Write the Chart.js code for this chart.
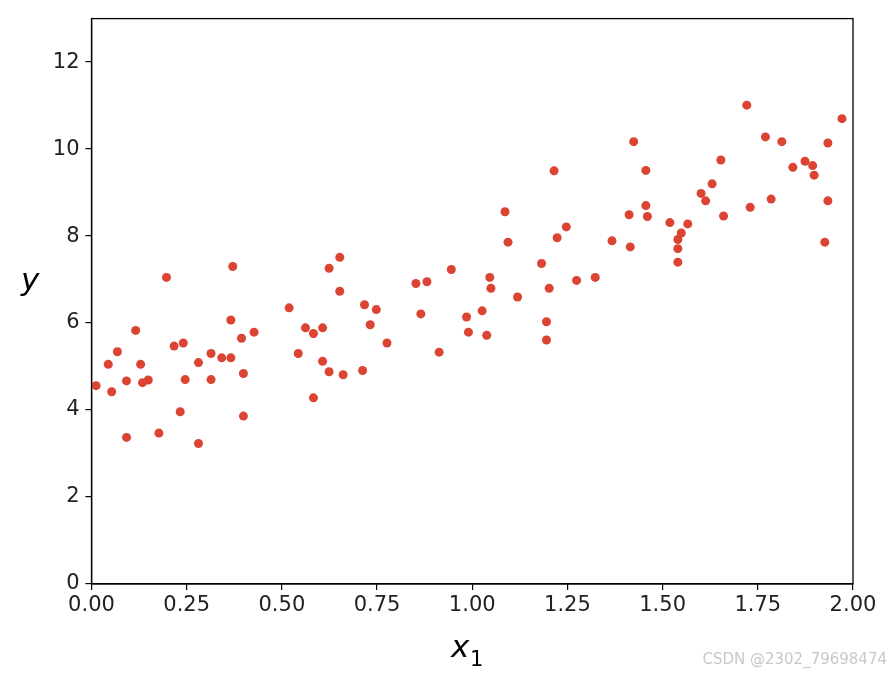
<!DOCTYPE html>
<html>
<head>
<meta charset="utf-8">
<script src="https://cdn.jsdelivr.net/npm/chart.js@4"></script>
<style>
  html, body { margin: 0; padding: 0; background: #fff; }
  canvas { display: block; }
</style>
</head>
<body>
<canvas id="scatterChart" width="892" height="676"></canvas>
<script>
// x1 values
const xValues = [
    0.012, 0.053, 0.044, 0.068, 0.092, 0.092, 0.116, 0.129, 0.134, 0.149,
    0.197, 0.177, 0.217, 0.241, 0.246, 0.233, 0.281, 0.281, 0.314, 0.314,
    0.342, 0.366, 0.371, 0.366, 0.394, 0.399, 0.399, 0.427, 0.519, 0.543,
    0.562, 0.583, 0.607, 0.607, 0.583, 0.624, 0.624, 0.652, 0.652, 0.661,
    0.712, 0.717, 0.748, 0.732, 0.776, 0.852, 0.881, 0.865, 0.945, 0.913,
    0.985, 0.990, 1.026, 1.038, 1.046, 1.049, 1.094, 1.119, 1.086, 1.215,
    1.247, 1.223, 1.182, 1.202, 1.195, 1.195, 1.274, 1.323, 1.367, 1.412,
    1.415, 1.456, 1.456, 1.460, 1.519, 1.566, 1.549, 1.540, 1.540, 1.540,
    1.424, 1.601, 1.613, 1.630, 1.653, 1.660, 1.721, 1.730, 1.770, 1.813,
    1.785, 1.842, 1.874, 1.894, 1.898, 1.934, 1.934, 1.926, 1.971
];
// y values
const yValues = [
    4.56, 4.42, 5.05, 5.34, 4.67, 3.37, 5.83, 5.05, 4.63, 4.69,
    7.05, 3.47, 5.47, 5.54, 4.70, 3.96, 5.09, 3.23, 5.30, 4.70,
    5.20, 5.20, 7.30, 6.07, 5.65, 4.84, 3.86, 5.79, 6.35, 5.30,
    5.89, 5.76, 5.89, 5.12, 4.28, 4.88, 7.26, 7.51, 6.73, 4.81,
    4.91, 6.42, 6.31, 5.96, 5.54, 6.91, 6.95, 6.21, 7.23, 5.33,
    6.14, 5.79, 6.28, 5.72, 7.05, 6.80, 7.86, 6.60, 8.56, 9.50,
    8.21, 7.96, 7.37, 6.80, 6.03, 5.61, 6.98, 7.05, 7.89, 8.49,
    7.75, 9.51, 8.70, 8.45, 8.31, 8.28, 8.07, 7.92, 7.71, 7.40,
    10.17, 8.98, 8.81, 9.20, 9.75, 8.46, 11.01, 8.66, 10.28, 10.17,
    8.85, 9.58, 9.72, 9.62, 9.40, 10.14, 8.81, 7.86, 10.70
];

const xTickLabels = ['0.00', '0.25', '0.50', '0.75', '1.00', '1.25', '1.50', '1.75', '2.00'];
const yTickLabels = ['0', '2', '4', '6', '8', '10', '12'];

const tickFont = { family: 'DejaVu Sans', size: 21 };

// frame, axis labels and watermark
const extras = {
    id: 'extras',
    afterDraw(chart) {
        const ctx = chart.ctx;
        const a = chart.chartArea;
        ctx.save();
        ctx.strokeStyle = '#000';
        ctx.lineWidth = 1.3;
        ctx.strokeRect(a.left, a.top, a.right - a.left, a.bottom - a.top);

        ctx.fillStyle = '#000';
        ctx.textBaseline = 'alphabetic';
        ctx.textAlign = 'left';
        ctx.font = 'italic 31px "DejaVu Sans"';
        ctx.fillText('x', 451, 657);
        ctx.font = '21px "DejaVu Sans"';
        ctx.fillText('1', 470, 666);

        ctx.font = 'italic 31px "DejaVu Sans"';
        ctx.fillText('y', 21, 290);

        ctx.fillStyle = '#c8c8c8';
        ctx.textAlign = 'right';
        ctx.font = '15px "DejaVu Sans"';
        ctx.fillText('CSDN @2302_79698474', 887, 664);
        ctx.restore();
    }
};

const el = document.getElementById('scatterChart');
new Chart(el, {
    type: 'scatter',
    data: {
        datasets: [{
            data: xValues.map((x, i) => ({ x: x, y: yValues[i] })),
            backgroundColor: '#db4433',
            borderWidth: 0,
            pointRadius: 4.5,
            pointHoverRadius: 4.5
        }]
    },
    options: {
        responsive: false,
        animation: false,
        layout: { padding: { left: 0, right: 39, top: 17, bottom: 0 } },
        plugins: {
            legend: { display: false },
            tooltip: { enabled: false }
        },
        scales: {
            x: {
                type: 'linear',
                min: 0,
                max: 2,
                afterFit: function (scale) { scale.height = 92; },
                ticks: {
                    stepSize: 0.25,
                    color: '#222',
                    font: tickFont,
                    padding: 3,
                    maxRotation: 0,
                    callback: (v, i) => xTickLabels[i]
                },
                grid: { drawOnChartArea: false, drawTicks: true, tickLength: 6, color: '#000', lineWidth: 1.2 },
                border: { display: true, color: '#000', width: 1.3 }
            },
            y: {
                type: 'linear',
                min: 0,
                max: 13,
                afterFit: function (scale) { scale.width = 91.5; },
                ticks: {
                    stepSize: 2,
                    includeBounds: false,
                    color: '#222',
                    font: tickFont,
                    padding: 6,
                    callback: (v, i) => yTickLabels[i]
                },
                grid: { drawOnChartArea: false, drawTicks: true, tickLength: 6, color: '#000', lineWidth: 1.2 },
                border: { display: true, color: '#000', width: 1.3 }
            }
        }
    },
    plugins: [extras]
});
</script>
</body>
</html>
